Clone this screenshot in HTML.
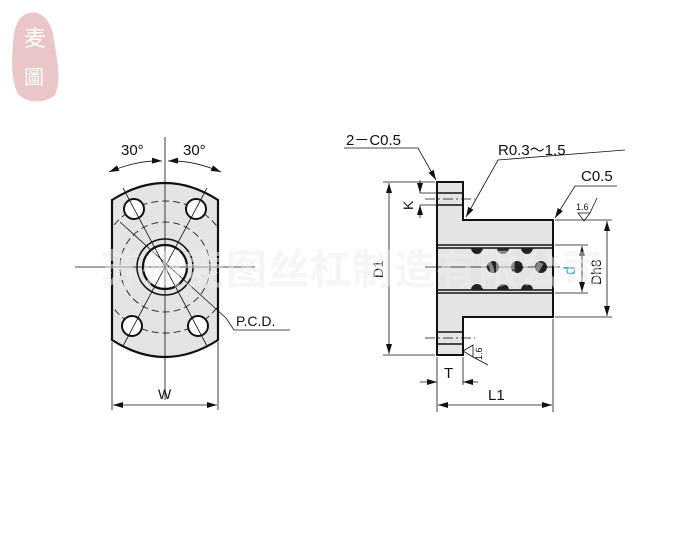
<!DOCTYPE html>
<html><head><meta charset="utf-8"><style>
html,body{margin:0;padding:0;background:#fff;}
svg{display:block;}
text{font-family:"Liberation Sans","Noto Sans CJK SC",sans-serif;fill:#111;}
</style></head><body>
<svg width="698" height="533" viewBox="0 0 698 533" xmlns="http://www.w3.org/2000/svg">
<defs>
<marker id="a" viewBox="0 0 10 6" refX="10" refY="3" markerWidth="10" markerHeight="6" orient="auto-start-reverse" markerUnits="userSpaceOnUse"><path d="M0,0 L10,3 L0,6z" fill="#111"/></marker>
<clipPath id="plate"><path d="M112,200 Q165,166 218,200 L218,340 Q165,374 112,340 Z"/></clipPath>
</defs>
<!-- logo -->
<path d="M26,14 C40,8 52,20 54,40 C57,60 62,80 55,95 C45,104 24,104 17,92 C10,75 12,50 14,35 C15,25 19,17 26,14z" fill="#ebc6c8"/>
<text x="24" y="46" font-size="22" style="fill:#fff">麦</text>
<text x="24" y="84" font-size="20" style="fill:#fff">圖</text>

<!-- LEFT VIEW -->
<path d="M112,200 Q165,166 218,200 L218,340 Q165,374 112,340 Z" fill="#e4e4e6"/>
<g fill="none" stroke="#333" stroke-width="1" stroke-dasharray="7,4" clip-path="url(#plate)">
<circle cx="165" cy="267" r="45"/>
<circle cx="165" cy="267" r="66"/>
</g>
<path d="M112,200 Q165,166 218,200 L218,340 Q165,374 112,340 Z" fill="none" stroke="#111" stroke-width="2.2"/>
<g fill="#fff" stroke="#111" stroke-width="2">
<circle cx="134" cy="209" r="10"/><circle cx="196" cy="209" r="10"/>
<circle cx="132" cy="326" r="10"/><circle cx="198" cy="326" r="10"/>
</g>
<circle cx="165" cy="267" r="28" fill="#e4e4e6" stroke="#111" stroke-width="1.5"/>
<circle cx="165" cy="267" r="22" fill="#fff" stroke="#111" stroke-width="2.2"/>
<g stroke="#111" stroke-width="0.8" fill="none">
<line x1="75" y1="267" x2="255" y2="267"/>
<line x1="165" y1="137" x2="165" y2="400"/>
<line x1="123" y1="188" x2="207" y2="346"/>
<line x1="207" y1="188" x2="123" y2="346"/>
<line x1="120" y1="222" x2="226" y2="318"/>
<line x1="226" y1="318" x2="234" y2="330"/>
<line x1="234" y1="330" x2="290" y2="330"/>
<path d="M109,172 Q137,160 162,161" marker-start="url(#a)" marker-end="url(#a)"/>
<path d="M168,161 Q193,160 221,172" marker-start="url(#a)" marker-end="url(#a)"/>
<line x1="112" y1="342" x2="112" y2="410"/>
<line x1="218" y1="342" x2="218" y2="410"/>
<line x1="113" y1="405" x2="217" y2="405" marker-start="url(#a)" marker-end="url(#a)"/>
</g>
<text x="121" y="155" font-size="15">30°</text>
<text x="183" y="155" font-size="15">30°</text>
<text x="236" y="326" font-size="14">P.C.D.</text>
<text x="158" y="399" font-size="14">W</text>

<!-- RIGHT VIEW -->
<path d="M437,182 L463,182 L463,220 L553,220 L553,317 L463,317 L463,355 L437,355 Z" fill="#e4e4e6" stroke="#111" stroke-width="2"/>
<g stroke="#111" stroke-width="1.5">
<line x1="437" y1="245" x2="553" y2="245"/><line x1="437" y1="248" x2="553" y2="248"/>
<line x1="437" y1="290" x2="553" y2="290"/><line x1="437" y1="293" x2="553" y2="293"/>
<line x1="437" y1="193" x2="463" y2="193"/><line x1="437" y1="205" x2="463" y2="205"/>
<line x1="437" y1="332" x2="463" y2="332"/><line x1="437" y1="344" x2="463" y2="344"/>
</g>
<g fill="#222">
<path d="M471,248 a6,6 0 0 0 12,0z"/><path d="M497,248 a6,6 0 0 0 12,0z"/><path d="M521,248 a6,6 0 0 0 12,0z"/>
<path d="M471,290 a6,6 0 0 1 12,0z"/><path d="M497,290 a6,6 0 0 1 12,0z"/><path d="M521,290 a6,6 0 0 1 12,0z"/>
<circle cx="493" cy="267" r="6"/><circle cx="517" cy="267" r="6"/><circle cx="541" cy="267" r="6"/>
</g>
<g stroke="#111" stroke-width="0.8" fill="none">
<line x1="425" y1="267" x2="560" y2="267"/>
<line x1="425" y1="199" x2="475" y2="199" stroke-dasharray="10,3,2,3"/>
<line x1="425" y1="338" x2="475" y2="338" stroke-dasharray="10,3,2,3"/>
<line x1="383" y1="182" x2="435" y2="182"/>
<line x1="383" y1="355" x2="435" y2="355"/>
<line x1="389" y1="183" x2="389" y2="354" marker-start="url(#a)" marker-end="url(#a)"/>
<line x1="420" y1="180" x2="420" y2="193" marker-end="url(#a)"/>
<line x1="420" y1="205" x2="420" y2="218" marker-start="url(#a)"/>
<line x1="420" y1="193" x2="437" y2="193"/><line x1="420" y1="205" x2="437" y2="205"/>
<line x1="555" y1="220" x2="612" y2="220"/><line x1="555" y1="317" x2="612" y2="317"/>
<line x1="607" y1="221" x2="607" y2="316" marker-start="url(#a)" marker-end="url(#a)"/>
<line x1="555" y1="245" x2="588" y2="245"/><line x1="555" y1="293" x2="588" y2="293"/>
<line x1="582" y1="246" x2="582" y2="292" marker-start="url(#a)" marker-end="url(#a)"/>
<line x1="437" y1="357" x2="437" y2="412"/><line x1="463" y1="357" x2="463" y2="385"/>
<line x1="553" y1="319" x2="553" y2="412"/>
<line x1="420" y1="382" x2="437" y2="382" marker-end="url(#a)"/>
<line x1="463" y1="382" x2="478" y2="382" marker-start="url(#a)"/>
<line x1="438" y1="405" x2="552" y2="405" marker-start="url(#a)" marker-end="url(#a)"/>
<polyline points="344,148 418,148 436,180" marker-end="url(#a)"/>
<polyline points="625,150 498,160 466,217" marker-end="url(#a)"/>
<polyline points="617,186 575,186 555,218" marker-end="url(#a)"/>
<path d="M578,213 L590,213 L584,221 Z"/><line x1="590" y1="213" x2="597" y2="198"/>
<path d="M463,351 L473,345 L473,357 Z"/><line x1="473" y1="357" x2="488" y2="365"/>
</g>
<text x="346" y="145" font-size="15">2－C0.5</text>
<text x="498" y="155" font-size="15">R0.3～1.5</text>
<text x="581" y="181" font-size="15">C0.5</text>
<text x="576" y="210" font-size="9">1.6</text>
<text font-size="9" transform="translate(482,360) rotate(-90)">1.6</text>
<text font-size="14" transform="translate(413,210) rotate(-90)">K</text>
<text font-size="14" transform="translate(383,278) rotate(-90)">D1</text>
<text font-size="14" transform="translate(601,285) rotate(-90)">Dh8</text>
<text font-size="16" transform="translate(575,275) rotate(-90)" style="fill:#1a9ad6">d</text>
<text x="444" y="378" font-size="15">T</text>
<text x="488" y="400" font-size="15">L1</text>

<!-- watermark -->
<text x="100" y="284" font-size="41" font-weight="bold" style="fill:#eeeeee;opacity:0.5" letter-spacing="1">苏州麦图丝杠制造有限公司</text>
</svg>
</body></html>
